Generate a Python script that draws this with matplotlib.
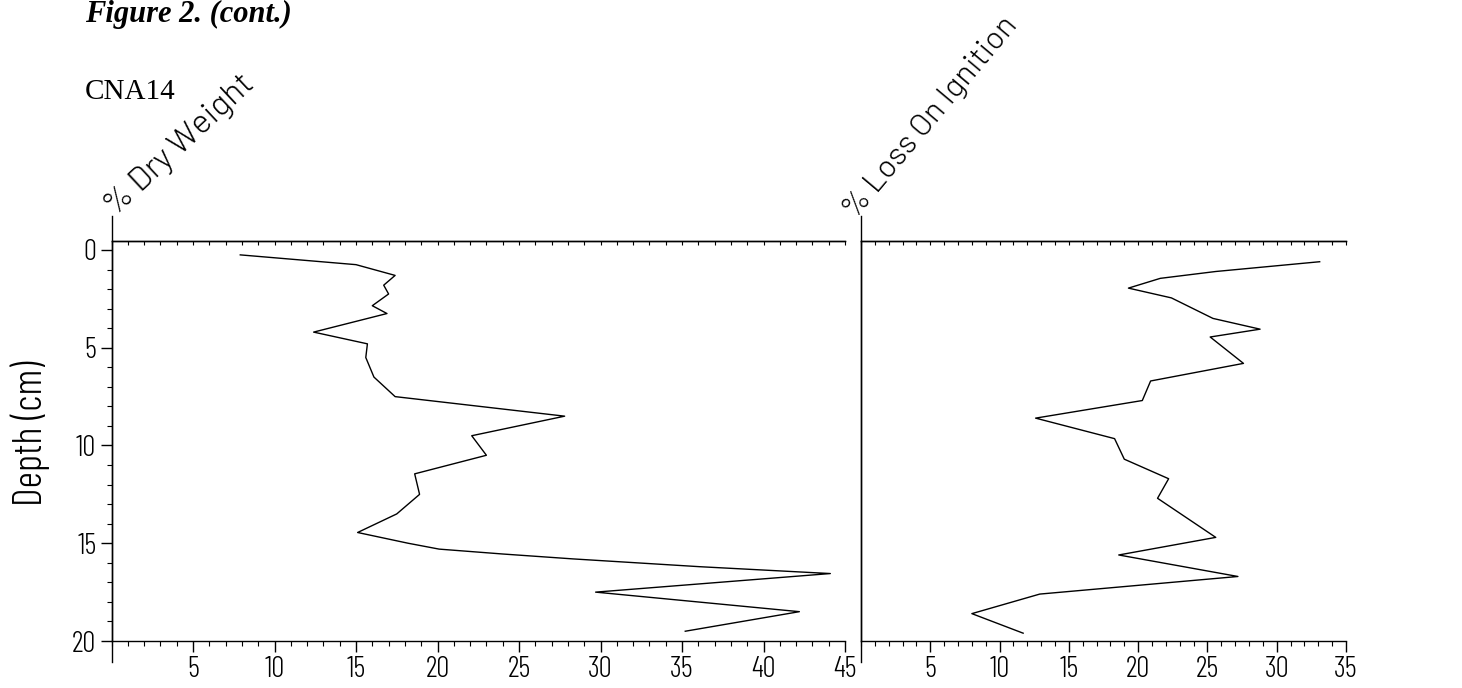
import matplotlib
matplotlib.use("Agg")
import matplotlib.pyplot as plt
from matplotlib import font_manager
from matplotlib.ticker import MultipleLocator, FixedLocator, NullFormatter

# datos (profundidad en cm)
dry_depth = [0.25, 0.75, 1.3, 1.8, 2.25, 2.85, 3.25, 4.2, 4.8, 5.5, 6.5, 7.5, 8.5, 9.5,
             10.5, 11.45, 12.5, 13.5, 14.45, 15.0, 15.3, 15.55, 15.8, 16.2, 16.55,
             17.5, 18.5, 19.5]
dry_weight = [7.9, 15.0, 17.4, 16.7, 17.0, 16.0, 16.9, 12.4, 15.7, 15.6, 16.1, 17.4, 27.8, 22.1,
              23.0, 18.6, 18.9, 17.5, 15.1, 18.2, 20.1, 24.0, 28.3, 36.1, 44.1,
              29.7, 42.2, 35.2]

loi_depth = [0.6, 1.1, 1.45, 1.95, 2.45, 3.5, 4.05, 4.45, 5.8, 6.7, 7.7, 8.6, 9.65, 10.7,
             11.7, 12.7, 14.7, 15.6, 16.7, 17.6, 18.6, 19.6]
loi = [33.1, 25.6, 21.6, 19.3, 22.4, 25.4, 28.8, 25.2, 27.6, 20.9, 20.3, 12.6, 18.3, 19.0,
       22.2, 21.4, 25.6, 18.6, 27.2, 12.9, 8.0, 11.7]

depth_ticks = [0, 5, 10, 15, 20]
dry_ticks = [5, 10, 15, 20, 25, 30, 35, 40, 45]
loi_ticks = [5, 10, 15, 20, 25, 30, 35]

# fuentes finas tipo plotter
fp = font_manager.FontProperties(family=["Barlow Condensed", "DejaVu Sans"], weight=300)
fp_rot = font_manager.FontProperties(family=["Barlow", "DejaVu Sans"], weight=300)

W, H = 1462, 688
fig = plt.figure(figsize=(W / 100, H / 100), dpi=100)

top_px, bot_px = 241, 641
ax1 = fig.add_axes([111.5 / W, 1 - bot_px / H, (845 - 111.5) / W, (bot_px - top_px) / H])
ax2 = fig.add_axes([861 / W, 1 - bot_px / H, (1346 - 861) / W, (bot_px - top_px) / H])


def preparar(ax, xmax, xticks):
    ax.set_xlim(0, xmax)
    ax.set_ylim(20, -0.46)
    ax.spines["right"].set_visible(False)
    for s in ("left", "top", "bottom"):
        ax.spines[s].set_linewidth(1.0)
    ax.xaxis.set_major_locator(FixedLocator(xticks))
    ax.xaxis.set_minor_locator(MultipleLocator(1))
    ax.tick_params(axis="x", which="major", direction="out", length=8, width=1, pad=3, top=False)
    ax.tick_params(axis="x", which="minor", direction="out", length=3.5, width=0.8, top=False)
    for lab in ax.get_xticklabels():
        lab.set_fontproperties(fp)
        lab.set_fontsize(21)
    sec = ax.secondary_xaxis("top")
    sec.xaxis.set_major_locator(MultipleLocator(1))
    sec.xaxis.set_major_formatter(NullFormatter())
    sec.tick_params(axis="x", direction="in", length=3, width=0.8)
    sec.spines["top"].set_linewidth(1.0)
    ax.axvline(0, ymin=-0.053, ymax=1.063, color="k", lw=1.0, clip_on=False)


preparar(ax1, 45, dry_ticks)
preparar(ax2, 35, loi_ticks)

ax1.yaxis.set_major_locator(FixedLocator(depth_ticks))
ax1.yaxis.set_minor_locator(MultipleLocator(1))
ax1.tick_params(axis="y", which="major", direction="out", length=8, width=1, pad=3)
ax1.tick_params(axis="y", which="minor", direction="out", length=3.5, width=0.8)
for lab in ax1.get_yticklabels():
    lab.set_fontproperties(fp)
    lab.set_fontsize(21)

ax2.tick_params(axis="y", which="both", left=False, labelleft=False)

ax1.plot(dry_weight, dry_depth, color="k", lw=1.0)
ax2.plot(loi, loi_depth, color="k", lw=1.0)

fig.text(85 / W, 1 - 14 / H, "Figure 2. (cont.)", family="Liberation Serif",
         weight="bold", style="italic", fontsize=22, va="center", ha="left")
fig.text(85 / W, 1 - 92 / H, "CNA14", family="Liberation Serif", fontsize=21,
         va="center", ha="left")

fig.text(30 / W, 1 - 433 / H, "Depth (cm)", fontproperties=fp, fontsize=29,
         rotation=90, va="center", ha="center")
fig.text(120 / W, 1 - 222 / H, "% Dry Weight", fontproperties=fp_rot, fontsize=24,
         rotation=43, rotation_mode="anchor", va="bottom", ha="left")
fig.text(860 / W, 1 - 224 / H, "% Loss On Ignition", fontproperties=fp_rot, fontsize=23,
         rotation=50, rotation_mode="anchor", va="bottom", ha="left")

fig.savefig("out.png", dpi=100)
